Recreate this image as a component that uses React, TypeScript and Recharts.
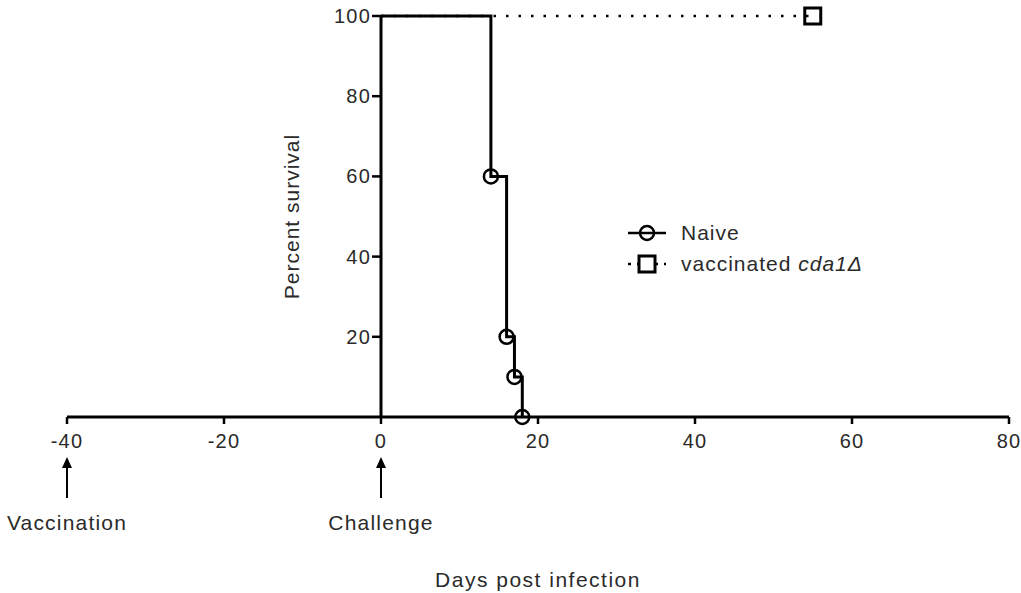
import React from "react";
import { ComposedChart, Line, XAxis, YAxis, ReferenceLine, Legend } from "recharts";

// Kaplan-Meier style survival data
const naiveDays = [0, 14, 16, 17, 18];
const naiveSurvival = [100, 60, 20, 10, 0];
const vaccinatedDays = [0, 55];
const vaccinatedSurvival = [100, 100];

const xTicks = [-40, -20, 0, 20, 40, 60, 80];
const yTicks = [20, 40, 60, 80, 100];

// events marked with arrows under the day axis
const eventDays = [-40, 0];
const eventLabels = ["Vaccination", "Challenge"];

const FONT = "'Liberation Sans', Arial, sans-serif";
const INK = "#2a2a2a";

const naive = naiveDays.map((d, i) => ({ day: d, survival: naiveSurvival[i] }));
const vaccinated = vaccinatedDays.map((d, i) => ({ day: d, survival: vaccinatedSurvival[i] }));

const textStyle = { fontFamily: FONT, fontSize: 20, fill: INK, letterSpacing: 1.2 };

function DayTick(props: any) {
    const { x, y, payload } = props;
    const i = eventDays.indexOf(payload.value);
    return (
        <g>
            <text x={x} y={y} dy="0.71em" textAnchor="middle" style={textStyle}>
                {payload.value}
            </text>
            {i >= 0 && (
                <g>
                    <line x1={x} x2={x} y1={y + 30} y2={y + 64} stroke="#000" strokeWidth={2} />
                    <path d={`M${x},${y + 23} L${x - 5},${y + 34} L${x + 5},${y + 34} Z`} fill="#000" />
                    <text x={x} y={y + 88} dominantBaseline="central" textAnchor="middle" style={{ ...textStyle, fontSize: 21 }}>
                        {eventLabels[i]}
                    </text>
                </g>
            )}
        </g>
    );
}

function NaiveDot(props: any) {
    const { cx, cy, index } = props;
    if (index === 0) return <g key={`nd-${index}`} />;
    return <circle key={`nd-${index}`} cx={cx} cy={cy} r={7} fill="none" stroke="#000" strokeWidth={2.5} />;
}

function VaccinatedDot(props: any) {
    const { cx, cy, index } = props;
    if (index === 0) return <g key={`vd-${index}`} />;
    return <rect key={`vd-${index}`} x={cx - 8} y={cy - 8} width={16} height={16} fill="none" stroke="#000" strokeWidth={3} />;
}

function LegendBox() {
    const row: React.CSSProperties = { display: "flex", alignItems: "center", height: 31 };
    const label: React.CSSProperties = { fontFamily: FONT, fontSize: 21, color: INK, letterSpacing: 1, marginLeft: 11 };
    return (
        <div>
            <div style={row}>
                <svg width={44} height={20}>
                    <line x1={2} x2={40} y1={10} y2={10} stroke="#000" strokeWidth={2.5} />
                    <circle cx={21} cy={10} r={7} fill="none" stroke="#000" strokeWidth={2.5} />
                </svg>
                <span style={label}>Naive</span>
            </div>
            <div style={row}>
                <svg width={44} height={20}>
                    <line x1={2} x2={40} y1={10} y2={10} stroke="#000" strokeWidth={2.5} strokeDasharray="3 6" />
                    <rect x={13} y={2} width={16} height={16} fill="#fff" stroke="#000" strokeWidth={3} />
                </svg>
                <span style={label}>
                    vaccinated <i>cda1Δ</i>
                </span>
            </div>
        </div>
    );
}

export default function App() {
    return (
        <div style={{ position: "absolute", left: 0, top: 0, width: 1021, height: 593, fontFamily: FONT, background: "#fff" }}>
            <ComposedChart
                width={1021}
                height={593}
                margin={{ top: 16, right: 12, left: 67, bottom: 0 }}
                style={{ overflow: "visible" }}
            >
                <XAxis
                    dataKey="day"
                    type="number"
                    domain={[-40, 80]}
                    ticks={xTicks}
                    interval={0}
                    height={176}
                    tickSize={7}
                    tickMargin={10}
                    axisLine={{ stroke: "#000", strokeWidth: 3 }}
                    tickLine={{ stroke: "#000", strokeWidth: 2.5 }}
                    tick={<DayTick />}
                    label={{
                        value: "Days  post infection",
                        position: "insideBottom",
                        offset: 6,
                        style: { ...textStyle, fontSize: 21, letterSpacing: 1.5 },
                    }}
                />
                <YAxis type="number" domain={[0, 100]} hide />

                {/* y axis crosses at day 0 */}
                <ReferenceLine
                    x={0}
                    stroke="#000"
                    strokeWidth={3}
                    ifOverflow="visible"
                    label={(p: any) => {
                        const cx = p.viewBox.x - 90;
                        const cy = p.viewBox.y + p.viewBox.height / 2;
                        return (
                            <text
                                x={cx}
                                y={cy}
                                transform={`rotate(-90 ${cx} ${cy})`}
                                textAnchor="middle"
                                dominantBaseline="central"
                                style={{ ...textStyle, fontSize: 21, letterSpacing: 1 }}
                            >
                                Percent survival
                            </text>
                        );
                    }}
                />
                {yTicks.map((v) => (
                    <ReferenceLine
                        key={v}
                        segment={[{ x: -1.15, y: v }, { x: 0, y: v }]}
                        stroke="#000"
                        strokeWidth={2.5}
                        ifOverflow="visible"
                        label={(p: any) => (
                            <text x={p.viewBox.x - 1} y={p.viewBox.y} textAnchor="end" dominantBaseline="central" style={textStyle}>
                                {v}
                            </text>
                        )}
                    />
                ))}

                <Line
                    data={vaccinated}
                    dataKey="survival"
                    name="vaccinated cda1Δ"
                    type="stepAfter"
                    stroke="#000"
                    strokeWidth={2.5}
                    strokeDasharray="2.5 10"
                    dot={VaccinatedDot}
                    activeDot={false}
                    isAnimationActive={false}
                />
                <Line
                    data={naive}
                    dataKey="survival"
                    name="Naive"
                    type="stepAfter"
                    stroke="#000"
                    strokeWidth={3}
                    dot={NaiveDot}
                    activeDot={false}
                    isAnimationActive={false}
                />
                <Legend
                    layout="vertical"
                    align="center"
                    verticalAlign="middle"
                    wrapperStyle={{ left: 626, top: 217, width: 320, height: "auto" }}
                    content={() => <LegendBox />}
                />
            </ComposedChart>
        </div>
    );
}
